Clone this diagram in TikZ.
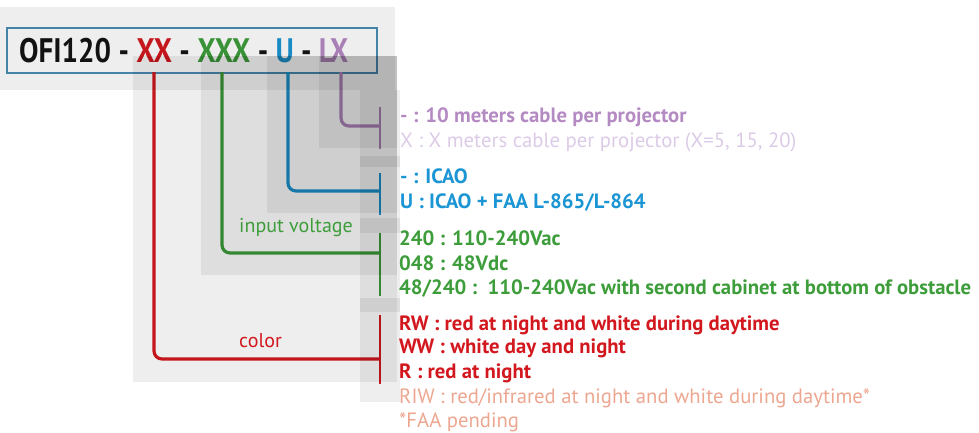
\documentclass[tikz,border=0pt]{standalone}
\usepackage{fontspec}
\usepackage{graphicx}
\setmainfont{PT Sans}
\definecolor{ofired}{HTML}{D2181E}
\definecolor{ofigreen}{HTML}{3E9D3B}
\definecolor{ofiblue}{HTML}{1B95D3}
\definecolor{ofipurple}{HTML}{B48AC2}
\definecolor{ofilav}{HTML}{DCCBE7}
\definecolor{ofisalmon}{HTML}{EDA690}
\definecolor{boxblue}{HTML}{4B8DB5}
\definecolor{titleink}{HTML}{141414}
\tikzset{
  conn/.style={line width=3.2pt, rounded corners=8pt},
  bar/.style={line width=2pt},
  shade/.style={fill=black, fill opacity=0.065, draw=none},
  item/.style={anchor=base west, inner sep=0pt, font=\fontsize{20.7}{20.7}\selectfont},
  bitem/.style={item, font=\bfseries\fontsize{20.7}{20.7}\selectfont},
  lbl/.style={anchor=base west, inner sep=0pt, font=\fontsize{20}{20}\selectfont},
}
\begin{document}
\begin{tikzpicture}[x=1pt,y=-1pt]
\useasboundingbox (0,0) rectangle (979,432);

% title box
\node[draw=boxblue, line width=2pt, minimum width=370pt, minimum height=45pt, anchor=north west, inner sep=0pt] (box) at (6,27) {};
\node[anchor=base west, inner sep=0pt, text=titleink, font=\bfseries\fontsize{34}{34}\selectfont] (title) at (19,62)
  {\scalebox{0.855}[1]{OFI120 - \textcolor{ofired}{XX} - \textcolor{ofigreen}{XXX} - \textcolor{ofiblue}{U} - \textcolor{ofipurple}{LX}}};

% connector ends
\coordinate (rtop) at (154,72);
\coordinate (gtop) at (222,72);
\coordinate (btop) at (288,72);
\coordinate (ptop) at (341,72);
\coordinate (rjoin) at (380,359);
\coordinate (gjoin) at (380,253);
\coordinate (bjoin) at (380,191);
\coordinate (pjoin) at (380,126);
\coordinate (rb1) at (380,315); \coordinate (rb2) at (380,384);
\coordinate (gb1) at (380,233); \coordinate (gb2) at (380,296);
\coordinate (bb1) at (380,173); \coordinate (bb2) at (380,215);
\coordinate (pb1) at (380,107); \coordinate (pb2) at (380,149);

\draw[conn, ofired] (rtop) |- (rjoin);
\draw[conn, ofigreen] (gtop) |- (gjoin);
\draw[conn, ofiblue] (btop) |- (bjoin);
\draw[conn, ofipurple] (ptop) |- (pjoin);
\draw[bar, ofired] (rb1) -- (rb2);
\draw[bar, ofigreen] (gb1) -- (gb2);
\draw[bar, ofiblue] (bb1) -- (bb2);
\draw[bar, ofipurple] (pb1) -- (pb2);

% translucent grey panels
\fill[shade] (0,7) rectangle (395,90);
\fill[shade] (133,56) rectangle (397,382);
\fill[shade] (201,56) rectangle (397,275);
\fill[shade] (267,56) rectangle (397,213);
\fill[shade] (319,56) rectangle (397,148);
\fill[shade] (360,90) rectangle (400,167);
\fill[shade] (360,156) rectangle (400,233);
\fill[shade] (360,218) rectangle (400,312);
\fill[shade] (360,298) rectangle (400,402);

% labels on connectors
\node[lbl, text=ofigreen] (ivl) at (239,232) {input voltage};
\node[lbl, text=ofired] (col) at (239,347) {color};

% option texts
\node[bitem, text=ofipurple] (p1) at (400,122) {- : 10 meters cable per projector};
\node[item, text=ofilav] (p2) at (400,147) {X : X meters cable per projector (X=5, 15, 20)};
\node[bitem, text=ofiblue] (b1) at (400,183) {- : ICAO};
\node[bitem, text=ofiblue] (b2) at (400,208) {U : ICAO + FAA L-865/L-864};
\node[bitem, text=ofigreen] (g1) at (399,245) {240 : 110-240Vac};
\node[bitem, text=ofigreen] (g2) at (399,270) {048 : 48Vdc};
\node[bitem, text=ofigreen] (g3) at (399,294) {48/240 :\ \ 110-240Vac with second cabinet at bottom of obstacle};
\node[bitem, text=ofired] (r1) at (399,330) {RW : red at night and white during daytime};
\node[bitem, text=ofired] (r2) at (399,353) {WW : white day and night};
\node[bitem, text=ofired] (r3) at (399,378) {R : red at night};
\node[item, text=ofisalmon] (r4) at (399,403) {RIW : red/infrared at night and white during daytime*};
\node[item, text=ofisalmon] (r5) at (399,427) {*FAA pending};
\end{tikzpicture}
\end{document}
